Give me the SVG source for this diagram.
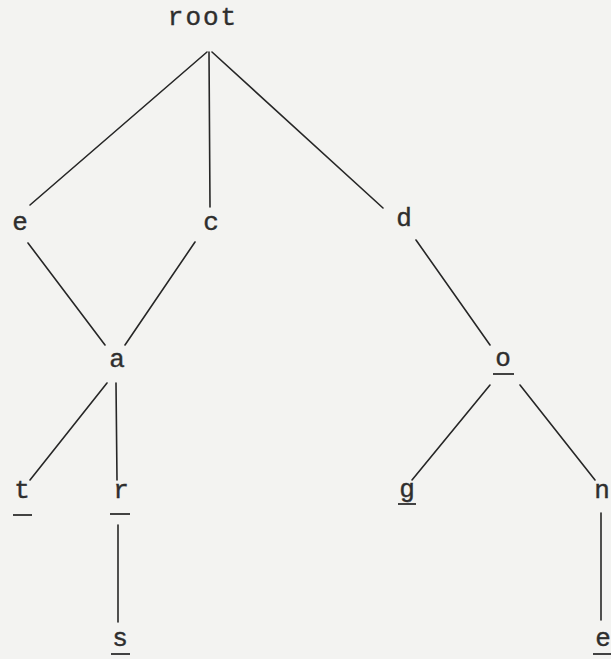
<svg xmlns="http://www.w3.org/2000/svg" width="611" height="659" viewBox="0 0 611 659">
<style>
.lbl{font-family:"Liberation Mono","DejaVu Sans Mono",monospace;font-size:26px;fill:#2e2e2e;text-anchor:middle;stroke:#2e2e2e;stroke-width:0.4}
.edge{stroke:#262626;stroke-width:1.6;fill:none;stroke-linecap:round}
.ul{stroke:#2e2e2e;stroke-width:1.8}
</style>
<rect width="611" height="659" fill="#f3f3f1"/>
<g id="connectors">
<line class="edge" x1="207" y1="52" x2="30" y2="205"/>
<line class="edge" x1="209" y1="52" x2="210" y2="207"/>
<line class="edge" x1="212" y1="52" x2="383" y2="208"/>
<line class="edge" x1="28" y1="243" x2="105" y2="345"/>
<line class="edge" x1="195" y1="242" x2="125" y2="345"/>
<line class="edge" x1="416" y1="240" x2="490" y2="345"/>
<line class="edge" x1="107" y1="383" x2="30" y2="480"/>
<line class="edge" x1="116" y1="383" x2="117" y2="480"/>
<line class="edge" x1="490" y1="385" x2="412" y2="480"/>
<line class="edge" x1="520" y1="385" x2="595" y2="480"/>
<line class="edge" x1="118" y1="525" x2="118" y2="622"/>
<line class="edge" x1="601" y1="513" x2="601" y2="620"/>
</g>
<g id="root"><text class="lbl" x="203" y="25" letter-spacing="2">root</text></g>
<g id="e1"><text class="lbl" x="20" y="230">e</text></g>
<g id="c"><text class="lbl" x="211" y="230">c</text></g>
<g id="d"><text class="lbl" x="404" y="226">d</text></g>
<g id="a"><text class="lbl" x="117" y="367">a</text></g>
<g id="o"><text class="lbl" x="503" y="366">o</text><line class="ul" x1="493" y1="374" x2="514" y2="374"/></g>
<g id="t"><text class="lbl" x="22" y="498">t</text><line class="ul" x1="13" y1="515" x2="32" y2="515"/></g>
<g id="r"><text class="lbl" x="121" y="498">r</text><line class="ul" x1="110" y1="514" x2="130" y2="514"/></g>
<g id="g"><text class="lbl" x="407" y="497">g</text><line class="ul" x1="398" y1="504" x2="416" y2="504"/></g>
<g id="n"><text class="lbl" x="602" y="498">n</text></g>
<g id="s"><text class="lbl" x="120" y="646">s</text><line class="ul" x1="111" y1="654" x2="130" y2="654"/></g>
<g id="e2"><text class="lbl" x="603" y="646">e</text><line class="ul" x1="593" y1="654" x2="611" y2="654"/></g>
</svg>
